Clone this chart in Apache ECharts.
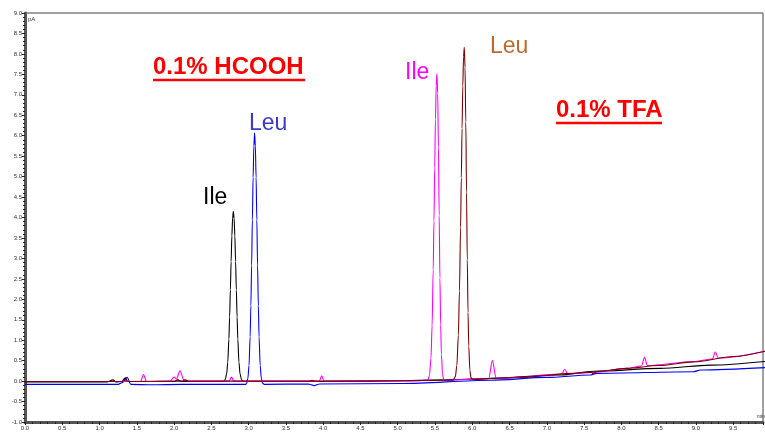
<!DOCTYPE html>
<html>
<head>
<meta charset="utf-8">
<script src="https://cdn.jsdelivr.net/npm/echarts@6/dist/echarts.min.js"></script>
<style>html,body{margin:0;padding:0;background:#fff}#c{width:765px;height:432px}</style>
</head>
<body>
<div id="c"></div>
<script>
// Axis settings (minutes / pA)
var xMin = 0, xMax = 9.9, xStep = 0.5;
var yMin = -1, yMax = 9, yStep = 0.5;

// 0.1% HCOOH - Ile (black trace) [time min, signal pA]
var hcoohIle = [
  [0,-0.02],[1.1,-0.02],[1.18,0.03],[1.22,-0.02],[1.3,-0.01],[1.345,0.08],[1.38,-0.01],
  [2.0,-0.01],[2.05,0.03],[2.1,-0.01],[2.66,-0.01],
  [2.685,0.03],[2.705,0.17],[2.72,0.46],[2.735,1.02],[2.745,1.57],[2.755,2.23],[2.765,2.92],
  [2.775,3.55],[2.785,3.98],[2.795,4.15],[2.805,3.98],[2.815,3.55],[2.825,2.92],[2.835,2.23],
  [2.845,1.57],[2.855,1.02],[2.87,0.46],[2.885,0.17],[2.905,0.03],[2.93,-0.01],
  [3.8,-0.01],[3.85,0.02],[3.9,-0.01],[4.5,0.0],[5.0,0.01],[5.84,0.04],[6.5,0.08],
  [7.18,0.15],[7.63,0.24],[8.52,0.31],[9.2,0.39],[9.93,0.48]
];
// 0.1% HCOOH - Leu (blue trace)
var hcoohLeu = [
  [0,-0.08],[1.25,-0.08],[1.3,-0.04],[1.37,0.09],[1.42,-0.08],[1.7,-0.09],[2.1,-0.08],
  [2.96,-0.08],[2.975,-0.05],[2.99,0.07],[3.005,0.38],[3.02,1.08],[3.03,1.85],[3.04,2.83],
  [3.05,3.94],[3.06,4.98],[3.07,5.75],[3.08,6.07],[3.09,5.75],[3.10,4.98],[3.11,3.94],
  [3.12,2.83],[3.13,1.85],[3.14,1.08],[3.155,0.38],[3.17,0.07],[3.185,-0.05],[3.21,-0.08],
  [3.8,-0.07],[3.88,-0.11],[3.95,-0.07],[5.06,-0.06],[6.24,0.02],[7.0,0.09],[7.58,0.15],
  [7.67,0.19],[8.97,0.23],[9.06,0.27],[9.93,0.33]
];
// 0.1% TFA - Ile (magenta trace)
var tfaIle = [
  [0,-0.01],[1.55,-0.01],[1.59,0.16],[1.63,-0.01],[1.95,0.0],[2.0,0.1],[2.03,0.05],[2.08,0.25],
  [2.13,0.03],[2.2,0.0],[2.74,0.0],[2.77,0.1],[2.8,0.0],[3.95,0.0],[3.98,0.13],[4.01,0.0],
  [5.3,0.01],[5.406,0.03],[5.426,0.14],[5.446,0.56],[5.461,1.35],[5.476,2.72],[5.486,3.92],
  [5.496,5.22],[5.506,6.39],[5.516,7.23],[5.526,7.52],[5.536,7.03],[5.546,5.73],[5.556,4.06],
  [5.566,2.52],[5.576,1.37],[5.586,0.65],[5.601,0.17],[5.616,0.04],[5.64,0.02],
  [6.22,0.06],[6.27,0.5],[6.32,0.07],[7.2,0.17],[7.24,0.29],[7.28,0.18],[7.6,0.21],[8.07,0.31],
  [8.27,0.37],[8.31,0.58],[8.35,0.38],[8.97,0.48],[9.22,0.54],[9.26,0.71],[9.3,0.56],[9.93,0.73]
];
// 0.1% TFA - Leu (dark red trace)
var tfaLeu = [
  [0,-0.01],[1.3,-0.01],[1.34,0.03],[1.38,-0.01],[2.1,0.0],[2.15,0.03],[2.2,0.0],[4.5,0.0],
  [5.743,0.02],[5.773,0.11],[5.793,0.38],[5.813,1.12],[5.828,2.2],[5.843,3.76],[5.853,4.97],
  [5.863,6.18],[5.873,7.22],[5.883,7.93],[5.893,8.16],[5.903,7.67],[5.913,6.34],[5.923,4.62],
  [5.933,2.97],[5.943,1.68],[5.953,0.85],[5.968,0.26],[5.983,0.08],[6.01,0.04],
  [6.29,0.07],[6.8,0.12],[7.36,0.19],[7.6,0.22],[7.62,0.17],[7.66,0.23],[8.07,0.31],
  [8.5,0.38],[8.97,0.47],[9.5,0.6],[9.93,0.73]
];

var chart = echarts.init(document.getElementById('c'), null, {renderer: 'canvas'});
function axisCommon() {
  return {
    type: 'value',
    splitLine: {show: false},
    axisLine: {show: true, onZero: false, lineStyle: {color: '#555', width: 3}},
    axisTick: {show: true, length: 3, lineStyle: {color: '#222', width: 1}},
    minorTick: {show: true, splitNumber: 5, length: 2, lineStyle: {color: '#222', width: 1}},
    axisLabel: {fontSize: 6, color: '#333', fontFamily: 'Liberation Sans', margin: 3,
      formatter: function (v) { return v.toFixed(1); }}
  };
}
var xa = axisCommon();
xa.min = xMin; xa.max = xMax; xa.interval = xStep;
xa.axisLabel.showMaxLabel = false;
var ya = axisCommon();
ya.min = yMin; ya.max = yMax; ya.interval = yStep;

function line(data, color) {
  return {type: 'line', data: data, showSymbol: false, symbol: 'none', animation: false,
    smooth: 0.3, smoothMonotone: 'x',
    lineStyle: {color: color, width: 1.1}, z: 3};
}
function label(txt, x, y, color, size, bold) {
  return {type: 'text', left: x, top: y, z: 10,
    style: {text: txt, fill: color, fontSize: size, fontFamily: 'Liberation Sans',
      fontWeight: bold ? 'bold' : 'normal'}};
}

chart.setOption({
  animation: false,
  backgroundColor: '#fff',
  grid: {left: 25, right: 2, top: 13, bottom: 10, show: true, borderColor: '#444', borderWidth: 1},
  xAxis: xa,
  yAxis: ya,
  series: [
    line(hcoohLeu, '#0000ff'),
    line(hcoohIle, '#000000'),
    line(tfaIle, '#ff00ff'),
    line(tfaLeu, '#7a0000')
  ],
  graphic: [
    label('0.1% HCOOH', 153, 55, '#ff0000', 24, true),
    {type: 'line', z: 10, shape: {x1: 153, y1: 80, x2: 305, y2: 80}, style: {stroke: '#ff0000', lineWidth: 2.5}},
    label('0.1% TFA', 556, 98, '#ff0000', 24, true),
    {type: 'line', z: 10, shape: {x1: 556, y1: 123, x2: 662, y2: 123}, style: {stroke: '#ff0000', lineWidth: 2.5}},
    label('Ile', 203, 186, '#000000', 23, false),
    label('Leu', 249, 112, '#3a3acc', 23, false),
    label('Ile', 405, 61, '#ff00ff', 23, false),
    label('Leu', 490, 35, '#bf6a2c', 23, false),
    label('pA', 28, 16, '#333', 6, false),
    label('min', 757, 414, '#333', 5, false)
  ]
});
</script>
</body>
</html>
